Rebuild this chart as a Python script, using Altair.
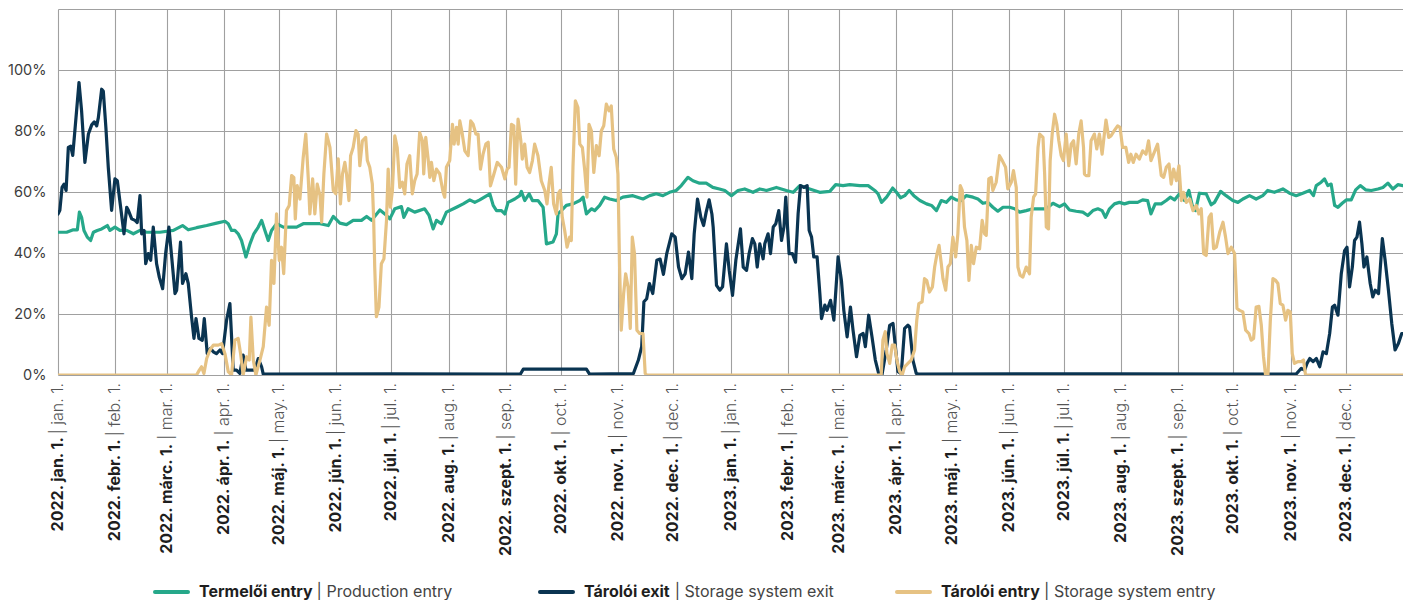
import altair as alt
import pandas as pd

# ---------------- data ----------------
# day offsets from 2022-01-01 and values in %
prod_days = [0, 4.7, 8.3, 10.5, 11.6, 12.8, 14.1, 15.9, 17.7, 19.2, 21.3, 23.7, 26.8, 28.2, 30.9, 33.6, 37.3, 40.9, 44.5, 48.1,
             55.3, 62.6, 67.6, 70.7, 75.2, 80.7, 86.1, 90.6, 92.4, 94.2, 96, 97.8, 99.6, 102, 104.2, 106.3, 108.7, 110.5, 112.3, 114.1,
             115.9, 118.6, 122.3, 129.5, 133.1, 142.2, 146.7, 149.4, 153, 156.6, 160.2, 164.7, 167.5, 170.2, 174.7, 177.4, 180.1, 182.8, 186.4, 187.7,
             190, 193.6, 199, 201.4, 203.6, 205.4, 208.1, 210.8, 216.3, 219.9, 223.5, 226.2, 228.9, 234.4, 236.2, 238, 240.7, 242.5, 244.3, 247.9,
             250.6, 251.5, 253.3, 255.7, 257.5, 260.5, 263.3, 265.1, 268.7, 270.5, 271.4, 273.2, 275.9, 279.5, 283.2, 285, 286.8, 289.5, 291.3, 294,
             296.7, 299.4, 303, 306.6, 312, 317.5, 321.1, 324.7, 328.3, 331.9, 335.5, 338.3, 341.9, 344.6, 348.2, 351.8, 355.4, 359, 361.9, 365.5,
             369.1, 372.7, 377.2, 380.9, 384.5, 389.9, 395.3, 399, 402.6, 408, 413.4, 418.9, 422.1, 426.1, 429.7, 435.2, 439.7, 443.3, 445.1, 447,
             449.7, 453, 455.1, 457.3, 459.6, 462, 464.5, 467.8, 471.4, 474.1, 476.8, 479.4, 482.1, 484.8, 487.5, 490.2, 492.9, 496.6, 499.3, 502,
             504.7, 507.4, 510.1, 512.9, 516.5, 519.2, 521.9, 525.5, 529.1, 532.8, 536.4, 540, 543.6, 546.3, 549, 552.6, 556.2, 558.9, 561.7, 564.4,
             566.7, 568.5, 570.7, 573.4, 576.1, 578.8, 581.5, 586, 588.7, 591.4, 593.2, 595.5, 598.8, 601.5, 603.7, 606, 608.7, 611.4, 613.8, 615.6,
             617.4, 619.5, 623.2, 625.9, 627.7, 631, 634, 637.6, 640.4, 643.1, 646.7, 650.3, 653.9, 656.6, 660.2, 664.8, 668.4, 672, 675.6, 679.3,
             681.4, 682.9, 685.6, 687.4, 689.2, 691, 692.9, 694.7, 697, 699.2, 701.9, 704.3, 706.8, 709.7, 712.8, 716.4, 719.1, 721.8, 724.5, 727.2,
             729.9]
prod_vals = [46.8, 46.8, 47.6, 47.6, 53.4, 51.7, 47.4, 45.2, 44.1, 46.8, 47.4, 47.9, 49, 47.4, 48.5, 47.4, 47.4, 46.3, 47.4, 46.8,
             46.8, 47.4, 49, 47.6, 48.3, 49, 49.8, 50.4, 49.6, 47.4, 47.4, 46.3, 44.1, 38.7, 43, 46.3, 48.5, 50.7, 47.4, 44.1,
             47.4, 49.6, 48.5, 48.5, 49.6, 49.6, 49, 52, 49.8, 49.3, 50.7, 50.7, 52, 50.7, 54.1, 52.8, 51.2, 54.5, 55.2, 51.7,
             54.5, 53.4, 54.5, 52.3, 47.9, 50.7, 49.6, 53.4, 55, 56.1, 57.4, 56.6, 57.4, 59.4, 55.6, 53.9, 53.9, 52.8, 56.6, 57.7,
             58.8, 60.2, 57.2, 59.4, 57.2, 57.2, 55, 43, 43.6, 46.3, 52.8, 53.9, 55.6, 56.1, 57.2, 58.3, 52.8, 54.5, 53.9, 55.6,
             58.3, 57.7, 57.2, 58.3, 58.8, 57.7, 58.8, 59.4, 58.8, 59.9, 60.5, 62.1, 64.8, 63.7, 62.9, 62.9, 61.5, 61, 60.5, 58.8,
             60.5, 61, 59.9, 61, 60.5, 61.5, 60.5, 59.9, 62.1, 61, 59.9, 60.2, 62.4, 62.1, 62.4, 62.1, 62.1, 60.5, 59.4, 56.6,
             58.3, 61.3, 59.9, 58.1, 58.8, 60.5, 58.8, 57.2, 56.1, 55.6, 53.9, 57.2, 56.6, 58.3, 57.4, 57.2, 58.8, 58.3, 57.7, 56.3,
             56.6, 55, 53.7, 55, 55, 54.5, 53.4, 53.9, 54.5, 54.5, 54.5, 56.3, 55.2, 56.1, 54.1, 53.7, 53.4, 52.3, 53.9, 54.5,
             53.9, 51.7, 54.5, 56.1, 56.6, 56.1, 56.6, 56.6, 57.4, 57.2, 52.8, 56.1, 56.1, 57.2, 58.3, 57.4, 59.4, 57.2, 60.5, 55.6,
             53.9, 59.6, 59.4, 55.8, 56.6, 60.2, 58.8, 57.2, 56.6, 57.7, 58.8, 57.7, 58.8, 60.5, 59.9, 61, 59.6, 58.8, 59.6, 60.5,
             58.8, 62.1, 63.2, 64.3, 62.1, 62.6, 55.6, 55, 56.3, 57.4, 57.4, 60.7, 62.1, 60.7, 60.5, 61, 61.5, 62.9, 61, 62.4,
             62.1]

exit_days = [0, 1, 2.2, 3.3, 4.4, 5.6, 6.9, 8, 9, 11.4, 12.8, 14.6, 16.5, 18.3, 19.7, 21, 21.9, 23.7, 24.6, 26,
             27.3, 29.1, 30.9, 32.2, 34, 35.8, 37.3, 38.2, 40, 41.8, 43, 44.5, 45.4, 46.7, 47.6, 49, 50.3, 51.7, 53.5, 55,
             56.8, 58.4, 60.2, 61.7, 63.5, 64.4, 66.5, 67.6, 69.4, 70.7, 72.5, 73.8, 74.9, 76.5, 78.3, 79.4, 81, 82.8, 84.3, 86,
             87.9, 89.3, 91.5, 93.3, 95.1, 96.9, 98.7, 100.5, 102, 104, 106.7, 108.7, 110.5, 111.4, 180, 251, 252.5, 286.8, 288.5, 312.3,
             315, 316.8, 318, 319.5, 321, 322.8, 325, 326.8, 328.6, 330.4, 333.1, 335, 336.8, 338.6, 340.4, 342.2, 344, 345.3, 347.1, 348.9,
             350.4, 351.8, 353.4, 354.9, 355.6, 357.4, 359.2, 360.7, 362.8, 364.3, 366.1, 367.9, 370.4, 371.9, 373.7, 375.1, 376.9, 378.2, 379.5, 380.9,
             382.7, 383.6, 385.4, 386.7, 388.2, 389.6, 391.2, 392.7, 394, 395, 396.8, 398.6, 400.3, 401.7, 403, 404.8, 406.6, 407.7, 409, 410.2,
             412, 413.5, 414.4, 416.2, 417.4, 419.3, 421.1, 423.4, 425.2, 426.5, 428.3, 430.1, 431.5, 433.4, 435.2, 437, 438.2, 440, 441.8, 443.6,
             445.4, 447.2, 449.5, 451.4, 453.2, 454.5, 455.9, 457.7, 459.5, 461.3, 462.2, 464, 465.8, 467, 570, 672, 674.8, 676.6, 677.9, 679.4,
             681.2, 683, 684.8, 686.6, 688.4, 690.2, 691.7, 692.9, 694.7, 696.5, 698.3, 699.6, 701, 702.5, 703.7, 705, 706.4, 707.7, 708.8, 710.4,
             712.2, 713.6, 714.9, 716.7, 718.8, 720.3, 722.1, 723.9, 725.7, 727.5, 729.3, 729.9]
exit_vals = [52.8, 54, 61.5, 62.6, 60.5, 74.6, 75, 72, 79, 95.9, 86.6, 69.7, 79, 82, 83, 81.7, 84.4, 93.7, 93, 81,
             68, 54, 64.3, 63.7, 55, 46.3, 55, 54, 51.2, 50.7, 50, 58.8, 46.3, 47.4, 36.5, 39.8, 37.6, 48.5, 36.5, 32,
             28.3, 39.8, 48.5, 38.7, 26.7, 27.8, 43.6, 30, 33.2, 30, 19, 12, 18.5, 12, 11.4, 18.5, 7, 8.7, 7.6, 7,
             8.2, 7, 18, 23.4, 1.6, 1.6, 0.5, 6.5, 1.6, 1.6, 1.6, 5.4, 2.7, 0.3, 0.4, 0.3, 1.9, 1.9, 0.3, 0.5,
             4.9, 9.3, 24, 25, 30, 26.7, 37.6, 38, 33, 39.8, 46.3, 45.2, 35.4, 31.6, 33.2, 40.3, 31.6, 46.3, 57.7, 51.7,
             49, 53.4, 57.4, 52.8, 48.5, 29.4, 27.8, 28.9, 43, 34.3, 26.1, 37.6, 47.9, 35.4, 34.3, 39.8, 44.7, 43, 35.4, 43,
             38.1, 43, 46.3, 39.8, 48.5, 49.6, 53.9, 44.1, 48.5, 58.3, 39.8, 39.8, 37, 52.8, 62.1, 61.5, 62.1, 47.4, 45.2, 38.7,
             38.7, 26.7, 18.5, 22.9, 21.2, 24.5, 18, 38.7, 31, 21.2, 12.5, 22.3, 14.7, 6, 13, 13.6, 9.3, 19.6, 12.5, 4.9,
             0.5, 0, 8.2, 16.3, 16.9, 9.3, 1.1, 0.5, 15.3, 16.3, 15.8, 4.9, 0.5, 0.3, 0.4, 0.3, 2.2, 1.6, 3.8, 5.4,
             4.4, 5.4, 2.7, 7.6, 7, 13.6, 22.3, 22.9, 19.6, 33.2, 40.8, 41.9, 28.9, 35.4, 44.1, 45.2, 50.1, 43, 35.4, 38.7,
             30, 25.6, 27.8, 26.7, 44.7, 37.6, 27.8, 16.9, 8.2, 10.3, 13.6, 13.6]

entry_days = [0, 75.2, 76.7, 77.9, 79.2, 80.7, 82.5, 84.3, 87, 88.8, 90.6, 92.4, 94.2, 96, 97.8, 99.1, 100.5, 102.4, 103.8, 104.7,
              106, 107.4, 109.6, 111.4, 113.2, 114.6, 115.9, 117.2, 118.6, 120.1, 121.3, 122.5, 124, 125.5, 126.8, 128, 128.8, 129.8, 131.3, 133.1,
              134.5, 135.8, 136.7, 138.2, 139.4, 140.7, 142.2, 143.1, 144.3, 145.8, 147.6, 149.4, 150.8, 152.1, 153.3, 154.4, 155.7, 156.6, 157.9, 158.8,
              160.2, 161.7, 162.9, 163.8, 165.2, 167, 167.9, 169.2, 170.6, 171.3, 171.9, 172.8, 174.2, 175.5, 176.9, 178.3, 179.2, 180.4, 181.5, 182.8,
              184.1, 185.5, 186.9, 188.2, 189.4, 190.9, 192.3, 193.6, 194.9, 196.3, 197.8, 198.5, 199.6, 200.9, 201.8, 202.7, 204, 205.4, 207.2, 209,
              209.9, 210.8, 212.6, 214.1, 215, 216.3, 217.2, 218.1, 219.3, 220.8, 222.6, 224, 225.3, 226.8, 228, 229.3, 230.7, 232.2, 233.5, 234.7,
              236.6, 238.4, 240.7, 242.5, 243.8, 244.8, 246.1, 247.4, 248.4, 249.7, 251.2, 252, 253.3, 254.6, 256, 257.5, 258.7, 260.5, 262.3, 264.2,
              265.4, 266.5, 267.7, 269, 270.5, 271.4, 272.6, 273.7, 275, 276.3, 277.7, 278.6, 279.5, 280.8, 282.2, 283.2, 284.6, 285.9, 287.1, 288.2,
              289.5, 290.8, 292.2, 293.7, 294.9, 296.2, 297.6, 299.1, 300.3, 301.6, 303, 303.9, 304.8, 305.7, 307, 308.1, 309.4, 310.6, 311.7, 312.9,
              314.2, 315.7, 317.5, 318.7, 319.5, 446.8, 447.7, 449, 449.9, 451.4, 452.8, 454.1, 455.3, 456.8, 458.2, 459.5, 461.3, 463.1, 464.9, 466.1,
              467.2, 469, 470.3, 471.5, 473, 474.6, 475.8, 477.1, 478.2, 479.4, 480.3, 481.8, 483, 484.3, 485.7, 487.2, 488.4, 489.7, 490.8, 492,
              493.3, 494.4, 495.7, 496.9, 498.4, 500.2, 501.6, 502.9, 503.8, 505.2, 506.5, 507.4, 509.2, 511, 512.5, 514.3, 515.5, 517.4, 518.6, 520.1,
              521, 522.2, 523.7, 525.5, 527.3, 528.2, 529.5, 530.6, 531.9, 532.8, 534.6, 535.5, 536.4, 537.6, 538.5, 539.6, 540.9, 542.1, 543.2, 544.5,
              545.7, 547.2, 548.6, 549.9, 551.2, 552.6, 554, 555.3, 556.6, 557.1, 558, 559.5, 560.7, 562.5, 563.8, 565.2, 566.7, 567.9, 568.8, 570.3,
              571.5, 573.3, 575.1, 576.4, 577.8, 579.6, 581.1, 582.3, 583.6, 585.1, 586.9, 588.7, 590.5, 591.9, 593.2, 595, 596.8, 598.8, 600.1, 601.5,
              603, 604.2, 605.5, 607, 608.4, 609.7, 610.9, 612.4, 614.2, 616, 617.8, 619.2, 620.5, 621.8, 623.2, 624.7, 625.9, 627.2, 628.7, 630.5,
              632.3, 633.7, 635, 636.8, 638.6, 639.9, 641.3, 643.1, 644.6, 646.4, 647.6, 648.9, 650.3, 651.8, 653.1, 654.3, 655.4, 656.7, 658, 659.4,
              660.9, 662.1, 663.4, 664.8, 666.3, 667.5, 668.8, 669.9, 671.1, 672.9, 674.8, 676, 677.1, 729.9]
entry_vals = [0, 0, 1.6, 2.7, 0.5, 5.4, 8.2, 9.8, 9.8, 10.3, 7, 1.1, 0, 11.4, 12, 7, 0, 6, 4.9, 19,
              4.9, 0, 4.9, 9.3, 22.3, 16.3, 37.6, 30, 52.8, 37.6, 41.9, 33.2, 53.9, 55.6, 65.4, 64.8, 51.2, 62.1, 57.7, 71.4,
              79, 64.8, 52.8, 64.3, 52.8, 62.6, 58.8, 50.1, 65.9, 79, 74.6, 60.5, 59.4, 70.9, 56.1, 65.9, 69.7, 65.9, 57.2, 71.9,
              74.6, 80.1, 79, 68.6, 76.8, 77.9, 70.3, 68.1, 62.6, 51.7, 35.4, 19.1, 22.3, 36.5, 38.1, 50.7, 67.5, 55, 60.5, 78.4,
              74.6, 61.5, 63.2, 59.4, 69.2, 71.9, 59.4, 63.7, 65.9, 79.5, 76.8, 65.9, 77.9, 70.8, 64.8, 69.7, 63.7, 67.5, 65.9, 59.9,
              58.3, 68.1, 70.3, 82.2, 75.7, 81.2, 75.7, 83.3, 79.5, 73.5, 71.9, 83.3, 82.2, 79, 79, 67.5, 72.4, 75.7, 76.3, 62,
              65.9, 69.7, 68.1, 64.3, 67.5, 68.1, 82.2, 81.7, 62.6, 83.9, 76.8, 70.8, 75.7, 68.1, 66.4, 70.3, 75.7, 71.9, 63.7, 60.5,
              56.1, 62.6, 68.1, 56.1, 52.8, 59.4, 60.5, 51.7, 47.4, 41.9, 45.2, 44.1, 68.1, 89.9, 87.7, 75.7, 74.6, 67, 58.3, 82.2,
              80.1, 66.4, 75.2, 71.9, 80.1, 81.7, 88.8, 86.6, 88.2, 74.1, 71.4, 65.9, 35.4, 14.7, 26.7, 33.2, 28.9, 15.3, 45.2, 39.8,
              14.7, 13.6, 13.6, 0.5, 0, 0, 11.4, 14.2, 7, 3.8, 9.8, 9.8, 4.9, 1.1, 0, 2.7, 3.8, 4.9, 8.2, 18,
              23.4, 24, 31.6, 31, 27.2, 28.9, 35.4, 39.8, 42.5, 36.5, 31.6, 27.8, 35.4, 36.5, 45.2, 38.7, 46.3, 62.1, 60.5, 48.5,
              44.1, 31, 42.5, 36.5, 41.9, 41.4, 50.7, 46.3, 45.8, 64.3, 64.8, 60.5, 63.2, 71.9, 70.3, 68.1, 61, 63.2, 67, 61.5,
              35.4, 32.7, 32.1, 35.4, 33.2, 51.7, 58.3, 59.4, 74.6, 79, 77.9, 65.9, 48.5, 47.9, 70.3, 79, 85.5, 82.2, 76.8, 71.9,
              70.3, 79, 68.6, 75.7, 76.8, 69.2, 79, 83.3, 74.6, 65.9, 65.4, 65.4, 76.8, 79, 74.1, 79, 72.4, 79, 83.6, 77.9,
              78.4, 80.1, 81.7, 81.2, 74.6, 74.6, 69.7, 72.4, 69.7, 72.4, 70.8, 73.5, 72.4, 76.8, 70.3, 73, 75.7, 65.4, 64.8, 68.1,
              69.2, 62.6, 67.5, 63.7, 68.6, 57.2, 59.9, 56.6, 57.7, 53.9, 55.6, 52.8, 54.5, 39.8, 39.2, 51.7, 52.8, 41.4, 41.9, 46.8,
              50.1, 45.2, 39.8, 41.9, 39.8, 21.8, 21.2, 20.7, 14.7, 13.6, 11.4, 12, 22.3, 22.5, 16.3, 6, 0, 0, 18, 31.6,
              31, 30, 23.4, 22.9, 18, 21.2, 20.7, 7, 3.8, 4.4, 4.4, 4.9, 0, 0]

months_hu = ["jan.", "febr.", "márc.", "ápr.", "máj.", "jún.", "júl.", "aug.", "szept.", "okt.", "nov.", "dec."]
months_en = ["jan.", "feb.", "mar.", "apr.", "may.", "jun.", "jul.", "aug.", "sep.", "oct.", "nov.", "dec."]
years = [2022, 2023]
y_ticks = [0, 20, 40, 60, 80, 100, 120]

series_names = ["Termelői entry", "Tárolói exit", "Tárolói entry"]
series_en = ["| Production entry", "| Storage system exit", "| Storage system entry"]
series_colors = ["#26a88a", "#0a3451", "#e6c283"]

# ---------------- helpers ----------------
START = pd.Timestamp("2022-01-01")


def frame(days, vals):
    return pd.DataFrame({"date": [START + pd.to_timedelta(d, unit="D") for d in days], "value": vals})


W = {' ': 0.26, '|': 0.26, '.': 0.27, '1': 0.45, '0': 0.62, '2': 0.6, '3': 0.6,
     'a': 0.55, 'b': 0.6, 'c': 0.54, 'd': 0.6, 'e': 0.56, 'f': 0.34, 'g': 0.6, 'h': 0.58,
     'i': 0.23, 'j': 0.23, 'k': 0.52, 'l': 0.23, 'm': 0.86, 'n': 0.58, 'o': 0.58, 'p': 0.6,
     'r': 0.36, 's': 0.51, 't': 0.34, 'u': 0.58, 'v': 0.53, 'x': 0.52, 'y': 0.53, 'z': 0.51,
     'á': 0.55, 'é': 0.56, 'í': 0.23, 'ó': 0.58, 'ú': 0.58, 'ő': 0.58,
     'T': 0.6, 'P': 0.63, 'S': 0.6}


def text_w(s, size, bold=False):
    k = 1.07 if bold else 1.0
    return sum(W.get(c, 0.56) for c in s) * size * k


FONT = "Inter"
H = 366
WIDTH = 1345
LAB_SIZE = 16
LEG_SIZE = 16
GRID = "#a0a0a0"

x_scale = alt.Scale(domain=[alt.DateTime(year=2022, month=1, date=1), alt.DateTime(year=2024, month=1, date=1)])
y_scale = alt.Scale(domain=[0, 120], nice=False, zero=True)
month_starts = [alt.DateTime(year=y, month=m, date=1) for y in years for m in range(1, 13)]

x_axis = alt.Axis(values=month_starts, grid=True, labels=False, ticks=False, domain=False, title=None,
                  gridColor=GRID, gridWidth=1.1)
y_axis = alt.Axis(values=y_ticks, grid=True, ticks=False, domain=False, title=None,
                  labelExpr="datum.value >= 120 ? '' : datum.value + '%'",
                  labelFont=FONT, labelFontSize=14.5, labelColor="#3d3d3d", labelPadding=12,
                  gridColor=GRID, gridWidth=1.1)

X_ENC = alt.X("date:T", scale=x_scale, axis=x_axis)
Y_ENC = alt.Y("value:Q", scale=y_scale, axis=y_axis)


def line_layer(days, vals, color):
    return alt.Chart(frame(days, vals)).mark_line(
        color=color, strokeWidth=3.2, strokeJoin="round", strokeCap="round", clip=True
    ).encode(x=X_ENC, y=Y_ENC)


prod = line_layer(prod_days, prod_vals, series_colors[0])
exitl = line_layer(exit_days, exit_vals, series_colors[1])
entry = line_layer(entry_days, entry_vals, series_colors[2])

# ---------------- x labels (two weights) ----------------
REG_Y = H + 8
label_layers = []
for y in years:
    for m in range(12):
        reg = "| " + months_en[m] + " 1."
        bold = f"{y}. {months_hu[m]} 1."
        row = pd.DataFrame({"date": [pd.Timestamp(year=y, month=m + 1, day=1)], "reg": [reg], "bold": [bold]})
        label_layers.append(
            alt.Chart(row).mark_text(
                angle=270, align="right", baseline="middle", font=FONT, fontSize=LAB_SIZE,
                fontWeight=300, color="#555555"
            ).encode(x=X_ENC, y=alt.value(REG_Y), text="reg:N")
        )
        label_layers.append(
            alt.Chart(row).mark_text(
                angle=270, align="right", baseline="middle", font=FONT, fontSize=LAB_SIZE,
                fontWeight="bold", color="#1e1e1e", dx=-text_w(reg + " ", LAB_SIZE)
            ).encode(x=X_ENC, y=alt.value(REG_Y), text="bold:N")
        )

# ---------------- custom legend ----------------
LEG_Y = 583
leg_x = [97, 482, 839]
one = alt.InlineData(values=[{"k": 0}])
legend_layers = []
for i in range(3):
    x0 = leg_x[i]
    legend_layers.append(
        alt.Chart(one).mark_rule(color=series_colors[i], strokeWidth=4, strokeCap="round").encode(
            x=alt.value(x0), x2=alt.value(x0 + 33), y=alt.value(LEG_Y))
    )
    tx = x0 + 44
    legend_layers.append(
        alt.Chart(one).mark_text(align="left", baseline="middle", font=FONT, fontSize=LEG_SIZE,
                                 fontWeight="bold", color="#1e1e1e").encode(
            x=alt.value(tx), y=alt.value(LEG_Y), text=alt.value(series_names[i]))
    )
    legend_layers.append(
        alt.Chart(one).mark_text(align="left", baseline="middle", font=FONT, fontSize=LEG_SIZE,
                                 fontWeight="normal", color="#444444").encode(
            x=alt.value(tx + text_w(series_names[i] + " ", LEG_SIZE, bold=True)), y=alt.value(LEG_Y),
            text=alt.value(series_en[i]))
    )

chart = alt.layer(prod, exitl, entry, *label_layers, *legend_layers).properties(
    width=WIDTH, height=H,
    autosize=alt.AutoSizeParams(type="none"),
    padding={"left": 50, "top": 1, "right": 0, "bottom": 225},
).configure_view(stroke=None)

chart.save("out.html", embed_options={"renderer": "svg", "actions": False})
